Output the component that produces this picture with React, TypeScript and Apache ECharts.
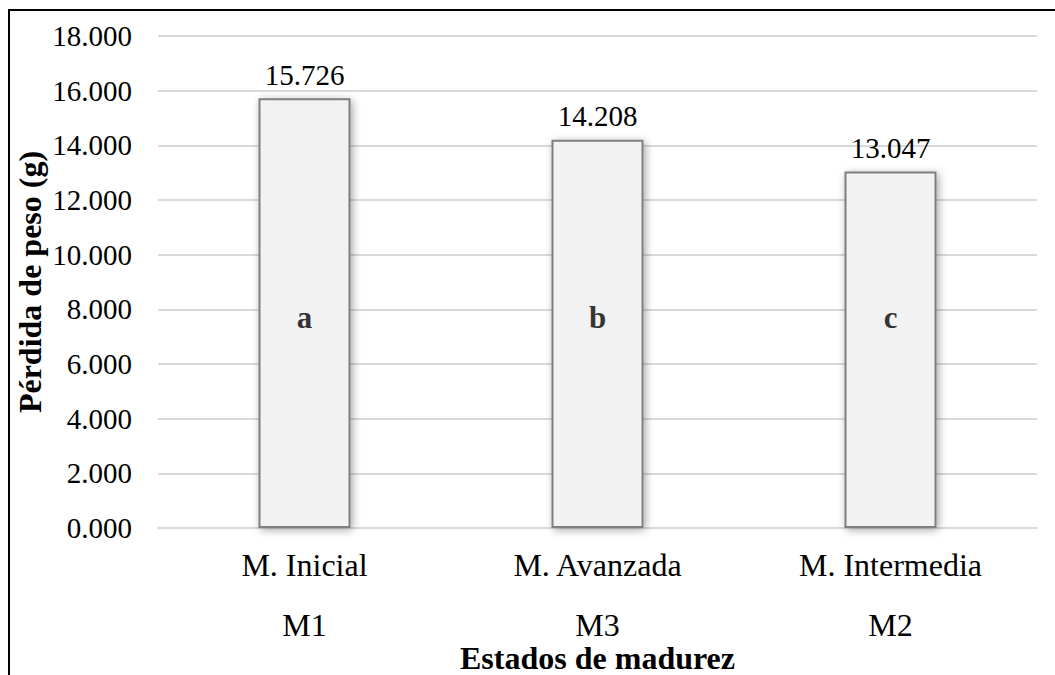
import React, { useEffect, useRef } from "react";
import * as echarts from "echarts";

const categories = ["M. Inicial", "M. Avanzada", "M. Intermedia"];
const codes = ["M1", "M3", "M2"];
const values = [15.726, 14.208, 13.047];
const letters = ["a", "b", "c"];
const letterLevel = [7.7, 7.7, 7.7];

const FONT = "'Liberation Serif', 'Times New Roman', serif";

export default function App() {
  const ref = useRef<HTMLDivElement>(null);
  useEffect(() => {
    if (!ref.current) return;
    const chart = echarts.init(ref.current, null, { renderer: "svg" });
    chart.setOption({
      animation: false,
      backgroundColor: "#ffffff",
      textStyle: { fontFamily: FONT },
      grid: { left: 158, right: 18, top: 36, bottom: 147, outerBoundsMode: "none", containLabel: false },
      graphic: [
        { type: "line", shape: { x1: 8, y1: 10, x2: 1055, y2: 10 }, style: { stroke: "#000", lineWidth: 2 } },
        { type: "line", shape: { x1: 9, y1: 10, x2: 9, y2: 675 }, style: { stroke: "#000", lineWidth: 2 } },
      ],
      xAxis: {
        type: "category",
        data: categories.map((c, i) => c + "\n" + codes[i]),
        axisTick: { show: false },
        axisLine: { show: true, lineStyle: { color: "#d9d9d9", width: 2 } },
        axisLabel: { color: "#000", fontSize: 32, fontFamily: FONT, lineHeight: 60, margin: 7 },
        name: "Estados de madurez",
        nameLocation: "middle",
        nameGap: 114,
        nameMoveOverlap: false,
        nameTextStyle: { color: "#000", fontSize: 32, fontWeight: "bold", fontFamily: FONT },
      },
      yAxis: {
        type: "value",
        min: 0,
        max: 18,
        interval: 2,
        axisLine: { show: false },
        axisTick: { show: false },
        splitLine: { lineStyle: { color: "#d9d9d9", width: 2 } },
        axisLabel: {
          color: "#000",
          fontSize: 29,
          fontFamily: FONT,
          margin: 26,
          formatter: (v: number) => v.toFixed(3),
        },
        name: "Pérdida de peso (g)",
        nameLocation: "middle",
        nameGap: 112,
        nameMoveOverlap: false,
        nameTextStyle: { color: "#000", fontSize: 32, fontWeight: "bold", fontFamily: FONT },
      },
      series: [
        {
          type: "bar",
          data: values,
          barWidth: 92,
          itemStyle: {
            color: "#f2f2f2",
            borderColor: "#7f7f7f",
            borderWidth: 2,
            shadowBlur: 8,
            shadowColor: "rgba(0,0,0,0.35)",
            shadowOffsetX: 2,
            shadowOffsetY: 2,
          },
          label: {
            show: true,
            position: "top",
            distance: 9,
            color: "#000",
            fontSize: 29,
            fontFamily: FONT,
            formatter: (p: any) => Number(p.value).toFixed(3),
          },
        },
        {
          type: "scatter",
          data: categories.map((c, i) => [c + "\n" + codes[i], letterLevel[i]]),
          symbolSize: 0,
          silent: true,
          label: {
            show: true,
            position: "inside",
            color: "#000",
            fontSize: 31,
            fontWeight: "bold",
            fontFamily: FONT,
            formatter: (p: any) => letters[p.dataIndex],
          },
        },
      ],
    });
    return () => chart.dispose();
  }, []);
  return (
    <div
      ref={ref}
      style={{ position: "fixed", left: 0, top: 0, width: 1055, height: 675 }}
    />
  );
}
